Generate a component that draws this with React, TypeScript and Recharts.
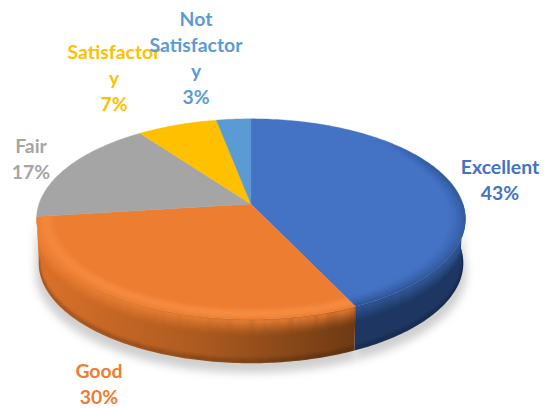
import React from "react";
import { PieChart, Pie } from "recharts";

const categories = ["Excellent", "Good", "Fair", "Satisfactory", "Not Satisfactory"];
const shares = [43, 30, 17, 7, 3];
const labelNameLines = [
  ["Excellent"],
  ["Good"],
  ["Fair"],
  ["Satisfactor", "y"],
  ["Not", "Satisfactor", "y"],
];
const colors = ["#4472C4", "#ED7D31", "#A5A5A5", "#FFC000", "#5B9BD5"];
const tableData = categories.map((name, i) => ({ name, value: shares[i] }));

// layout only
const CX = 251, CY = 204, R = 212, SQUASH = 0.462, PERSP = 0.15, DEPTH = 44;
const labelAnchors = [
  { x: 500, y: 174 },
  { x: 99, y: 378 },
  { x: 31, y: 153 },
  { x: 114, y: 59 },
  { x: 196, y: 26 },
];
const LINE = 26;

const project = (deg: number, r = 1, dy = 0, scale = 1): [number, number] => {
  const a = (deg * Math.PI) / 180;
  const u = r * Math.cos(a), v = r * Math.sin(a);
  const w = 1 + PERSP * v;
  return [CX + (R * scale * u) / w, CY + dy - (R * SQUASH * v) / w];
};

const arcPoints = (from: number, to: number, r = 1, dy = 0, scale = 1) => {
  const n = Math.max(2, Math.ceil(Math.abs(from - to)));
  const pts: [number, number][] = [];
  for (let i = 0; i <= n; i++) pts.push(project(from + ((to - from) * i) / n, r, dy, scale));
  return pts;
};
const toPath = (pts: [number, number][]) =>
  pts.map((p, i) => `${i ? "L" : "M"}${p[0].toFixed(2)} ${p[1].toFixed(2)}`).join(" ");

const frontSpan = (s: number, e: number): [number, number] | null => {
  const from = Math.min(s, 0), to = Math.max(e, -180);
  return from - to > 10 ? [from, to] : null;
};

const Shadow = (p: any) => {
  const span = frontSpan(p.startAngle, p.endAngle);
  if (!span) return <g />;
  const back = arcPoints(span[1], span[0], 1, 0);
  const front = arcPoints(span[0], span[1], 1.005, DEPTH + 9, 1.0);
  return <path d={toPath([...front, ...back]) + "Z"} fill="#cfcfcf" filter="url(#pieShadow)" />;
};

const Wall = (p: any) => {
  const span = frontSpan(p.startAngle, p.endAngle);
  if (!span) return <g />;
  const [from, to] = span;
  const top = arcPoints(from, to);
  const bottom = arcPoints(to, from, 1, DEPTH, 0.99);
  const blue = p.index === 0;
  const clip = `wallClip${p.index}`;
  const bands = [];
  for (let d = 0; d < 18; d++) {
    const t = 1 - d / 18;
    bands.push(
      <path key={d} d={toPath(arcPoints(from, to, 1, d + 0.5, 1))} fill="none"
        stroke={blue ? "#345A9C" : "#EE8236"} strokeOpacity={Math.pow(t, 1.6) * 0.95} strokeWidth={1.2} />
    );
  }
  for (let d = 38; d < 44; d++) {
    bands.push(
      <path key={d} d={toPath(arcPoints(from, to, 1, d, 0.99))} fill="none" stroke="#000" strokeOpacity={0.04 * (d - 37)} strokeWidth={1.1} />
    );
  }
  const outline = toPath([...top, ...bottom]) + "Z";
  return (
    <g>
      <clipPath id={clip}><path d={outline} /></clipPath>
      <path d={outline} fill={blue ? "#1E3762" : "url(#orangeWall)"} />
      <g clipPath={`url(#${clip})`}><g filter="url(#soft)">{bands}</g></g>
    </g>
  );
};

const smooth = (x: number) => {
  const t = Math.min(1, Math.max(0, x));
  return t * t * (3 - 2 * t);
};

const Face = (p: any) => {
  const { startAngle: s, endAngle: e, fill, index } = p;
  const [cx, cy] = [p.cx, p.cy];
  const outline = `M${cx} ${cy} ` + toPath(arcPoints(s, e)).replace(/^M/, "L") + " Z";
  const clip = `faceClip${index}`;
  const bevel = [];
  if (index === 0 || index === 1) {
    for (let i = 0; i < 12; i++) {
      const r = 1 - i * 0.007;
      const t = 1 - i / 12;
      const base = index === 0 ? 0.42 * t * t : 0.3 * Math.sin(Math.PI * t);
      const stroke = index === 0 ? "#1F3864" : "#FF9E55";
      for (let a = s; a > e; a -= 6) {
        const b = Math.max(e, a - 6);
        const mid = (a + b) / 2;
        const fade = index === 0 ? smooth((50 - mid) / 40) : 1;
        if (fade <= 0) continue;
        bevel.push(
          <path key={`${i}-${a}`} d={toPath(arcPoints(a, b, r))} fill="none" stroke={stroke}
            strokeOpacity={base * fade} strokeWidth={1.7} />
        );
      }
    }
  }
  return (
    <g>
      <clipPath id={clip}><path d={outline} /></clipPath>
      <path d={outline} fill={fill} stroke={fill} strokeWidth={0.4} />
      <g clipPath={`url(#${clip})`}><g filter="url(#soft)">{bevel}</g></g>
    </g>
  );
};

const renderLabel = (p: any) => {
  const a = labelAnchors[p.index];
  const lines = [...labelNameLines[p.index], `${Math.round(p.percent * 100)}%`];
  return (
    <text key={p.index} textAnchor="middle" fontFamily="Lato, sans-serif" fontWeight={700} fontSize={19.4} fill={colors[p.index]}>
      {lines.map((t, i) => (
        <tspan key={i} x={a.x} y={a.y + i * LINE}>{t}</tspan>
      ))}
    </text>
  );
};

const pieData = tableData.map((d, i) => ({ ...d, fill: colors[i] }));
const common = {
  data: pieData, dataKey: "value", nameKey: "name", cx: CX, cy: CY, outerRadius: R,
  startAngle: 90, endAngle: -270, isAnimationActive: false, stroke: "none",
  labelLine: false,
};

export default function App() {
  return (
    <div style={{ position: "absolute", left: 0, top: 0, width: 547, height: 408 }}>
      <PieChart width={547} height={408} margin={{ top: 0, right: 0, bottom: 0, left: 0 }}>
        <defs>
          <filter id="pieShadow" x="-10%" y="-10%" width="120%" height="125%">
            <feGaussianBlur stdDeviation="4" />
          </filter>
          <filter id="soft" filterUnits="userSpaceOnUse" x="0" y="0" width="547" height="408">
            <feGaussianBlur stdDeviation="1.2" />
          </filter>
          <linearGradient id="orangeWall" gradientUnits="userSpaceOnUse" x1="38" y1="0" x2="355" y2="0">
            <stop offset="0" stopColor="#DA712A" />
            <stop offset="0.5" stopColor="#AD5B20" />
            <stop offset="1" stopColor="#6E3A13" />
          </linearGradient>
        </defs>
        <Pie {...common} shape={Shadow} />
        <Pie {...common} shape={Wall} />
        <Pie {...common} shape={Face} label={renderLabel} />
      </PieChart>
    </div>
  );
}
